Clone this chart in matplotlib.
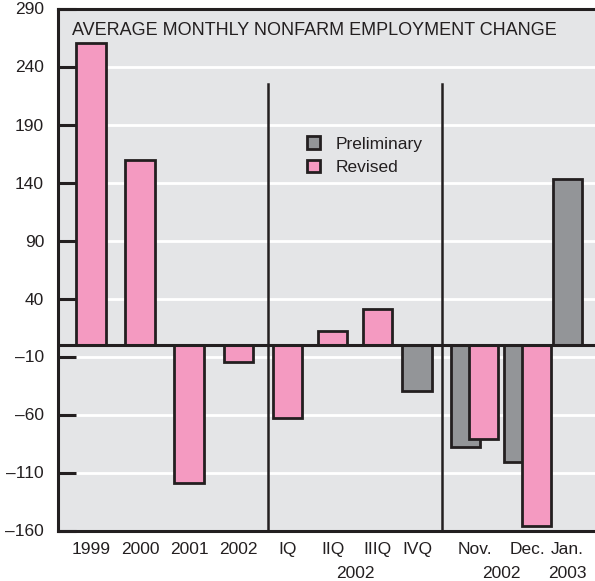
import matplotlib
matplotlib.use("Agg")
import matplotlib.pyplot as plt
from matplotlib.patches import Patch
from matplotlib.ticker import FixedLocator, FuncFormatter
import matplotlib.transforms as mtransforms

plt.rcParams["font.family"] = ["Liberation Sans", "DejaVu Sans"]

# Data (thousands of jobs)
year_labels = ["1999", "2000", "2001", "2002"]
year_revised = [260, 159, -119, -15]

quarter_labels = ["IQ", "IIQ", "IIIQ", "IVQ"]
quarter_values = [-63, 12, 31, -40]
quarter_status = ["Revised", "Revised", "Revised", "Preliminary"]

month_labels = ["Nov.", "Dec.", "Jan."]
month_preliminary = [-88, -101, 143]
month_revised = [-81, -156, None]

y_ticks = [-160, -110, -60, -10, 40, 90, 140, 190, 240, 290]

PINK = "#F49AC1"
GRAY = "#939598"
DARK = "#231F20"
BG = "#E4E5E7"
FS = 12.5

# layout of category centers (bar-width units)
year_x = [0, 1, 2, 3]
quarter_x = [4.0, 4.92, 5.83, 6.64]
month_x = [7.81, 8.89, 9.71]
width = 0.6
pair_off = 0.18

fig = plt.figure(figsize=(5.95, 5.81), dpi=100)
ax = fig.add_axes([58 / 595, 1 - 530.5 / 581, (604 - 58) / 595, 522 / 581])
ax.set_facecolor(BG)
ax.set_xlim(-0.672, (604 - 91) / 49.1)
ax.set_ylim(-160, 290)

bar_kw = dict(width=width, edgecolor=DARK, linewidth=2.0, zorder=3)

ax.bar(year_x, year_revised, color=PINK, **bar_kw)
for x, v, s in zip(quarter_x, quarter_values, quarter_status):
    ax.bar(x, v, color=PINK if s == "Revised" else GRAY, **bar_kw)
for x, p, r in zip(month_x, month_preliminary, month_revised):
    if r is None:
        ax.bar(x, p, color=GRAY, **bar_kw)
    else:
        ax.bar(x - pair_off, p, color=GRAY, **bar_kw)
        ax.bar(x + pair_off, r, color=PINK, **bar_kw)

# zero line and separators
ax.axhline(0, color=DARK, linewidth=2.2, zorder=4)
for sx in [3.6, 7.14]:
    ax.plot([sx, sx], [-160, 225], color=DARK, linewidth=1.8, zorder=4)

# grid
ax.yaxis.set_major_locator(FixedLocator(y_ticks))
ax.yaxis.set_major_formatter(FuncFormatter(lambda v, p: f"{int(v)}".replace("-", "\u2013")))
ax.grid(axis="y", color="white", linewidth=2.0, zorder=1)
ax.set_axisbelow(True)
ax.tick_params(axis="y", direction="in", length=13, width=2.2, color=DARK,
               labelsize=FS, pad=10, labelcolor=DARK)

xt = year_x + quarter_x + month_x
xl = year_labels + quarter_labels + month_labels
ax.set_xticks(xt)
ax.set_xticklabels(xl)
ax.tick_params(axis="x", length=0, labelsize=FS, pad=8, labelcolor=DARK)

trans = mtransforms.blended_transform_factory(ax.transData, ax.transAxes)
for x, t in [((quarter_x[1] + quarter_x[2]) / 2, "2002"),
             ((month_x[0] + month_x[1]) / 2, "2002"),
             (month_x[2], "2003")]:
    ax.text(x, -0.0815, t, transform=trans, ha="center", va="center",
            fontsize=FS, color=DARK)

for side in ["left", "top", "bottom"]:
    ax.spines[side].set_color(DARK)
    ax.spines[side].set_linewidth(2.2)
ax.spines["right"].set_visible(False)

ax.text(0.025, 0.975, "AVERAGE MONTHLY NONFARM EMPLOYMENT CHANGE", transform=ax.transAxes,
        ha="left", va="top", fontsize=13, color=DARK)

handles = [Patch(facecolor=GRAY, edgecolor=DARK, linewidth=2.0, label="Preliminary"),
           Patch(facecolor=PINK, edgecolor=DARK, linewidth=2.0, label="Revised")]
ax.legend(handles=handles, loc="upper left", bbox_to_anchor=(0.427, 0.785), frameon=False,
          fontsize=FS, handlelength=0.75, handleheight=0.75, handletextpad=0.9,
          labelspacing=0.45, labelcolor=DARK)

fig.savefig("out.png", dpi=100)
